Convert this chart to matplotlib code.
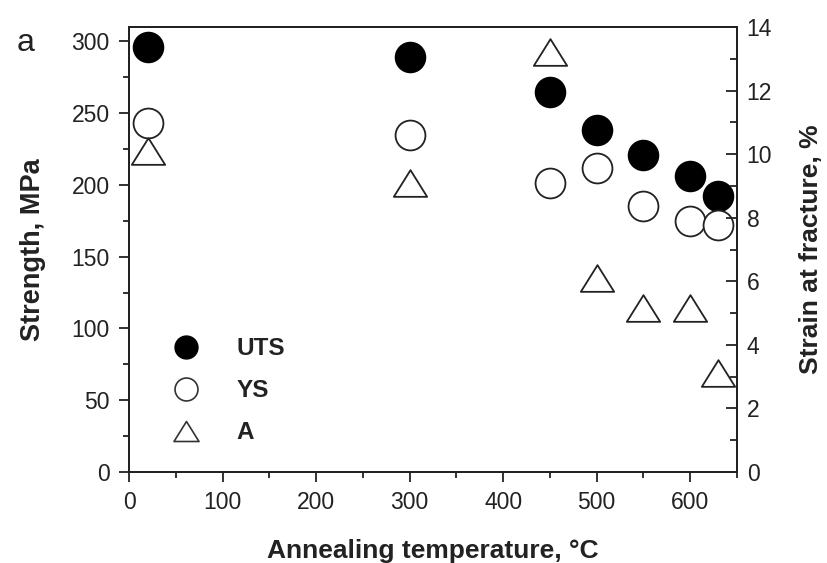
import matplotlib
matplotlib.use("Agg")
import matplotlib.pyplot as plt
from matplotlib.lines import Line2D
from matplotlib.path import Path
from matplotlib.ticker import MultipleLocator

plt.rcParams['font.family'] = ['Liberation Sans', 'DejaVu Sans']

# Annealing temperature (°C)
temperature = [20, 300, 450, 500, 550, 600, 630]
# Ultimate tensile strength and yield strength (MPa)
uts = [296, 289, 265, 238, 221, 206, 192]
ys = [243, 235, 201, 212, 185, 175, 172]
# Strain at fracture (%)
elong = [10.1, 9.1, 13.2, 6.1, 5.15, 5.15, 3.1]

INK = '#222222'

# open triangle, a little wider than tall
tri = Path([(-1, -0.8), (1, -0.8), (0, 0.8), (-1, -0.8)],
           [Path.MOVETO, Path.LINETO, Path.LINETO, Path.CLOSEPOLY])

fig = plt.figure(figsize=(8.28, 5.63), dpi=100)
ax = fig.add_axes([0.1558, 0.1616, 0.7343, 0.7904])
ax2 = ax.twinx()

ms = 21.5
ax.plot(temperature, uts, 'o', ms=ms, mfc='black', mec='black', mew=1.2, ls='none', zorder=3)
ax.plot(temperature, ys, 'o', ms=ms, mfc='white', mec=INK, mew=1.3, ls='none', zorder=3)
ax2.plot(temperature, elong, marker=tri, ms=24, mfc='white', mec=INK, mew=1.3, ls='none', zorder=3)

ax.set_xlim(0, 650)
ax.set_ylim(0, 310)
ax2.set_ylim(0, 14)

ax.xaxis.set_major_locator(MultipleLocator(100))
ax.xaxis.set_minor_locator(MultipleLocator(50))
ax.yaxis.set_major_locator(MultipleLocator(50))
ax.yaxis.set_minor_locator(MultipleLocator(25))
ax2.yaxis.set_major_locator(MultipleLocator(2))
ax2.yaxis.set_minor_locator(MultipleLocator(1))

ax.tick_params(axis='both', which='major', direction='out', length=7, width=1.3,
               labelsize=16.5, colors=INK, pad=7)
ax.tick_params(axis='both', which='minor', direction='out', length=4, width=1.3, colors=INK)
ax2.tick_params(axis='y', which='major', direction='in', length=8, width=1.3,
                labelsize=16.5, colors=INK, pad=7)
ax2.tick_params(axis='y', which='minor', direction='in', length=5, width=1.3, colors=INK)

for a in (ax, ax2):
    for s in a.spines.values():
        s.set_linewidth(1.4)
        s.set_color(INK)

ax.set_xlabel('Annealing temperature, °C', fontsize=19, fontweight='bold', color=INK, labelpad=18)
ax.set_ylabel('Strength, MPa', fontsize=19.5, fontweight='bold', color=INK, labelpad=18)
ax2.set_ylabel('Strain at fracture, %', fontsize=19, fontweight='bold', color=INK, labelpad=19)

fig.text(0.02, 0.91, 'a', fontsize=23, color=INK)

handles = [
    Line2D([], [], marker='o', ls='none', ms=16.5, mfc='black', mec='black'),
    Line2D([], [], marker='o', ls='none', ms=16.5, mfc='white', mec='#333333', mew=1.2),
    Line2D([], [], marker=tri, ls='none', ms=18, mfc='white', mec='#333333', mew=1.2),
]
leg = ax.legend(handles, ['UTS', 'YS', 'A'], loc='center left', bbox_to_anchor=(0.063, 0.183),
                frameon=False, handlelength=1.5, handletextpad=1.35, labelspacing=0.78,
                borderpad=0, borderaxespad=0, prop={'size': 17.5, 'weight': 'bold'})
for t in leg.get_texts():
    t.set_color(INK)

fig.savefig('out.png', dpi=100)
